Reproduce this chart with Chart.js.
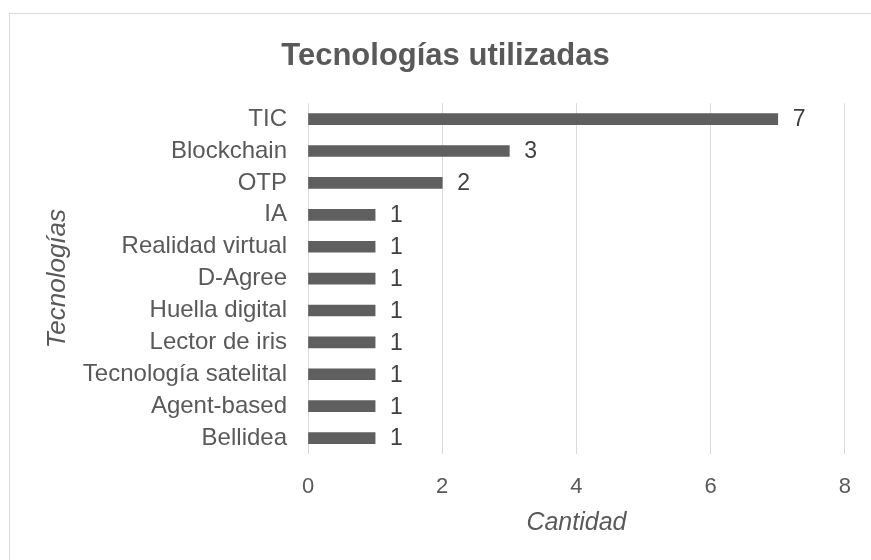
<!DOCTYPE html>
<html>
<head>
<meta charset="utf-8">
<script src="https://cdn.jsdelivr.net/npm/chart.js@4/dist/chart.umd.min.js"></script>
<style>
  html, body { margin: 0; padding: 0; background: #ffffff; overflow: hidden; }
  #wrap { position: relative; width: 871px; height: 560px; overflow: hidden; background: #fff; }
  #frame { position: absolute; left: 9px; top: 13px; width: 900px; height: 600px; border: 1px solid #d9d9d9; box-sizing: border-box; }
  #c { position: absolute; left: 0; top: 0; }
</style>
</head>
<body>
<div id="wrap">
  <div id="frame"></div>
  <canvas id="c" width="871" height="560"></canvas>
</div>
<script>
const chartTitle = "Tecnologías utilizadas";
const xAxisTitle = "Cantidad";
const yAxisTitle = "Tecnologías";
const categories = ["TIC", "Blockchain", "OTP", "IA", "Realidad virtual", "D-Agree", "Huella digital", "Lector de iris", "Tecnología satelital", "Agent-based", "Bellidea"];
const values = [7, 3, 2, 1, 1, 1, 1, 1, 1, 1, 1];
const xTicks = [0, 2, 4, 6, 8];

const FONT = "'Liberation Sans', Arial, sans-serif";

const valueLabels = {
  id: 'valueLabels',
  afterDatasetsDraw(chart) {
    const ctx = chart.ctx;
    const meta = chart.getDatasetMeta(0);
    ctx.save();
    ctx.font = "23px " + FONT;
    ctx.fillStyle = "#404040";
    ctx.textAlign = "left";
    ctx.textBaseline = "middle";
    meta.data.forEach((bar, i) => {
      ctx.fillText(String(values[i]), bar.x + 15, bar.y + 1);
    });
    ctx.restore();
  }
};

const shiftTitle = {
  id: 'shiftTitle',
  afterLayout(chart) {
    if (chart.titleBlock) { chart.titleBlock.left += 37; }
  }
};

new Chart(document.getElementById('c'), {
  type: 'bar',
  data: {
    labels: categories,
    datasets: [{
      data: values,
      backgroundColor: '#5f5f5f',
      borderWidth: 0,
      barThickness: 11,
      categoryPercentage: 1
    }]
  },
  plugins: [valueLabels, shiftTitle],
  options: {
    indexAxis: 'y',
    responsive: false,
    animation: false,
    devicePixelRatio: 1,
    layout: { padding: { left: 0, right: 17, top: 0, bottom: 0 } },
    plugins: {
      legend: { display: false },
      tooltip: { enabled: false },
      title: {
        display: true,
        text: chartTitle,
        color: '#595959',
        font: { family: FONT, size: 31, weight: 'bold', lineHeight: 1.2 },
        padding: { top: 38, bottom: 28 }
      }
    },
    scales: {
      x: {
        min: 0, max: 8,
        afterFit(scale) { scale.height = 106; },
        afterBuildTicks(scale) { scale.ticks = xTicks.map(v => ({ value: v })); },
        grid: { color: '#d9d9d9', lineWidth: 1, drawTicks: false },
        border: { display: false },
        ticks: {
          color: '#595959',
          padding: 20,
          font: { family: FONT, size: 22 }
        },
        title: {
          display: true,
          text: xAxisTitle,
          color: '#595959',
          font: { family: FONT, size: 25, style: 'italic', lineHeight: 1.2 },
          padding: { top: 0, bottom: 22 }
        }
      },
      y: {
        afterFit(scale) { scale.width = 308; },
        grid: { display: false, drawTicks: false },
        border: { display: false },
        ticks: {
          color: '#595959',
          padding: 21,
          autoSkip: false,
          font: { family: FONT, size: 24 }
        },
        title: {
          display: true,
          text: yAxisTitle,
          color: '#595959',
          font: { family: FONT, size: 26, style: 'italic', lineHeight: 1.2 },
          padding: { top: 42, bottom: 0 }
        }
      }
    }
  }
});
</script>
</body>
</html>
